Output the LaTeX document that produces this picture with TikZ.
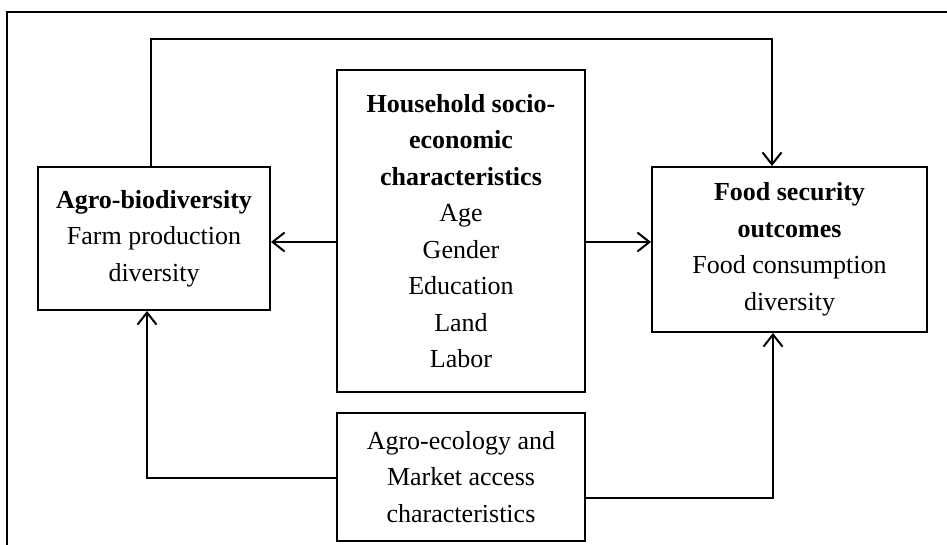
\documentclass[tikz,border=0pt]{standalone}
\usepackage{fontspec}
\setmainfont{Liberation Serif}
\usetikzlibrary{arrows.meta}
\begin{document}
\begin{tikzpicture}[x=1pt,y=-1pt,
  box/.style={draw,line width=2pt,rectangle,align=center,inner sep=0pt,
    font=\fontsize{26}{36.5}\selectfont},
  conn/.style={line width=2pt},
  arr/.style={conn,-{Straight Barb[length=12pt,width=19pt,line width=2pt]}}]
\useasboundingbox (0,0) rectangle (947,545);
\draw[line width=1.8pt] (7,545) -- (7,12) -- (947,12);
\node[box,minimum width=232pt,minimum height=143pt] (agro) at (154,238.5)
  {\textbf{Agro-biodiversity}\\Farm production\\diversity};
\node[box,minimum width=275pt,minimum height=165pt] (food) at (789.5,249.5)
  {\textbf{Food security}\\\textbf{outcomes}\\Food consumption\\diversity};
\node[box,minimum width=248pt,minimum height=322pt] (hh) at (461,231)
  {\textbf{Household socio-}\\\textbf{economic}\\\textbf{characteristics}\\Age\\Gender\\Education\\Land\\Labor};
\node[box,minimum width=248pt,minimum height=128pt] (bot) at (461,477)
  {Agro-ecology and\\Market access\\characteristics};
\coordinate (t1) at (151,39);
\coordinate (t2) at (772,39);
\coordinate (m) at (0,242);
\coordinate (b1) at (147,478);
\coordinate (b2) at (773,498);
\draw[arr] (agro.north -| t1) -- (t1) -- (t2) -- (food.north -| t2);
\draw[arr] (hh.west |- m) -- (agro.east |- m);
\draw[arr] (hh.east |- m) -- (food.west |- m);
\draw[arr] (bot.west |- b1) -- (b1) -- (agro.south -| b1);
\draw[arr] (bot.east |- b2) -- (b2) -- (food.south -| b2);
\end{tikzpicture}
\end{document}
